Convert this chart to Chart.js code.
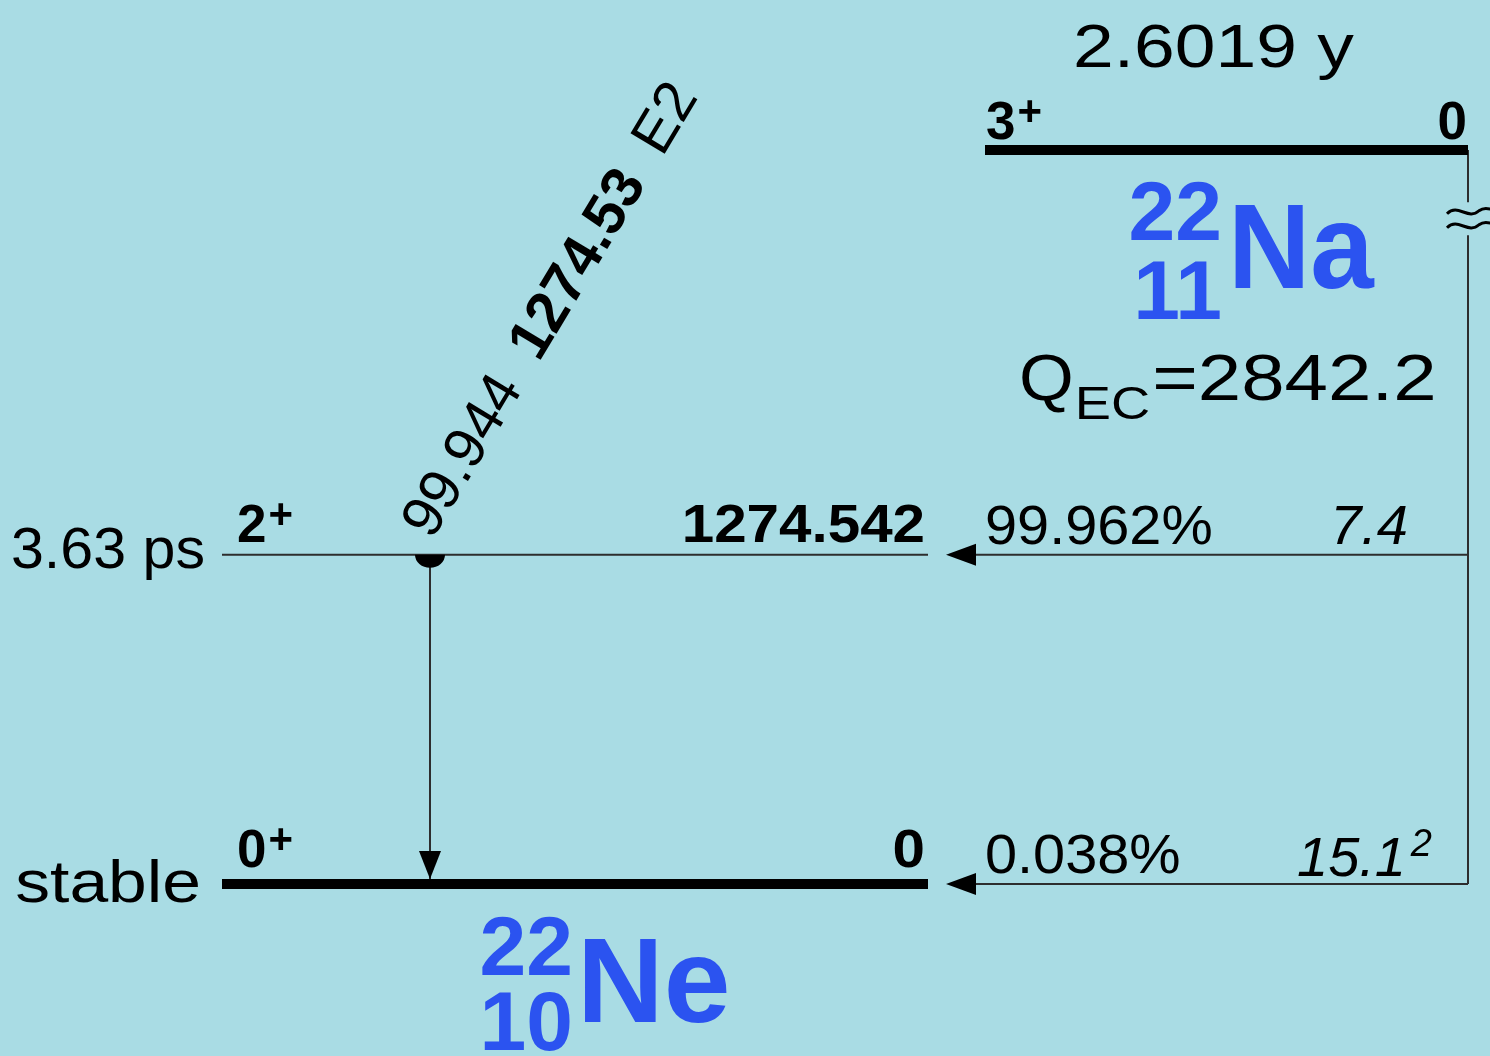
<!DOCTYPE html>
<html>
<head>
<meta charset="utf-8">
<title>22Na decay scheme</title>
<script src="https://cdn.jsdelivr.net/npm/chart.js@4.4.1/dist/chart.umd.min.js"></script>
<style>
  html, body { margin: 0; padding: 0; background: #a9dce4; }
  #scheme { display: block; }
</style>
</head>
<body>
<canvas id="scheme" width="1490" height="1056"></canvas>
<script>
// ---- Decay data: 22Na (3+, 2.6019 y) -> 22Ne by electron capture / beta+ ----
const parentNuclide   = { mass: '22', charge: '11', symbol: 'Na' };
const daughterNuclide = { mass: '22', charge: '10', symbol: 'Ne' };
const parentEnergy    = 2842.2;          // Q_EC, keV (parent ground state drawn at Q)
const parentSpin      = ['3', '+'];
const parentHalfLife  = '2.6019 y';
const parentLevelText = '0';
const qValueText      = '2842.2';

// daughter levels
const levelEnergies   = [0, 1274.542];
const levelLabels     = ['0', '1274.542'];
const levelSpins      = [['0', '+'], ['2', '+']];
const levelHalfLives  = ['stable', '3.63 ps'];

// decay branches fed from the parent, one per daughter level
const branchIntensity = ['0.038%', '99.962%'];
const branchLogFt     = ['15.1', '7.4'];
const branchLogFtSup  = ['2', ''];

// gamma transition
const gammaFrom       = 1274.542;
const gammaTo         = 0;
const gammaIntensity  = '99.944';
const gammaEnergy     = '1274.53';
const gammaMultipol   = 'E2';

// ---- Layout (horizontal units, vertical break on the feeding line) ----
const X_MAX = 1490;
const daughterSpan = [222, 928];
const parentSpan   = [985, 1468];
const feedX        = 1468;
const arrowTipX    = 946;
const arrowLen     = 30;
const gammaX       = 430;
const breakTop     = 2640;   // energy where the feeding line is interrupted
const breakBottom  = 2512;

const FONT = '"Liberation Sans", Arial, Helvetica, sans-serif';
const BLUE = '#2b53f0';
const THICK = 10, THIN = 2;

function seg(x1, y1, x2, y2, w, color) {
  return {
    data: [{ x: x1, y: y1 }, { x: x2, y: y2 }],
    showLine: true, borderColor: color, borderWidth: w,
    pointRadius: 0, borderCapStyle: 'butt', fill: false
  };
}

const datasets = [];
// daughter levels
levelEnergies.forEach(e => {
  datasets.push(seg(daughterSpan[0], e, daughterSpan[1], e, e === 0 ? THICK : THIN, e === 0 ? '#000' : '#2d2d2d'));
});
// parent level
datasets.push(seg(parentSpan[0], parentEnergy, parentSpan[1], parentEnergy, THICK, '#000'));
// feeding line with break
datasets.push(seg(feedX, parentEnergy, feedX, breakTop, THIN, '#2d2d2d'));
datasets.push(seg(feedX, breakBottom, feedX, Math.min(...levelEnergies), THIN, '#2d2d2d'));
// branch lines into each daughter level
levelEnergies.forEach(e => {
  datasets.push(seg(feedX, e, arrowTipX + arrowLen - 2, e, THIN, '#2d2d2d'));
});
// gamma line
datasets.push(seg(gammaX, gammaFrom, gammaX, gammaTo, THIN, '#2d2d2d'));

const background = {
  id: 'background',
  beforeDraw(chart) {
    const c = chart.ctx;
    c.save();
    c.fillStyle = '#a9dce4';
    c.fillRect(0, 0, chart.width, chart.height);
    c.restore();
  }
};

function txt(c, s, x, y, o) {
  o = o || {};
  const size = o.size || 56;
  c.save();
  c.font = (o.italic ? 'italic ' : '') + (o.bold ? 'bold ' : '') + size + 'px ' + FONT;
  c.fillStyle = o.color || '#000';
  c.textBaseline = 'alphabetic';
  const sx = o.sx || 1;
  const w = c.measureText(s).width * sx;
  let left = x;
  if (o.align === 'right') left = x - w;
  else if (o.align === 'center') left = x - w / 2;
  c.translate(left, y);
  c.scale(sx, 1);
  c.fillText(s, 0, 0);
  c.restore();
  return left + w;
}

const annotations = {
  id: 'annotations',
  afterDatasetsDraw(chart) {
    const c = chart.ctx;
    const xs = chart.scales.x, ys = chart.scales.y;
    const px = v => xs.getPixelForValue(v);
    const py = v => ys.getPixelForValue(v);

    // arrow heads on the branch lines
    c.fillStyle = '#000';
    levelEnergies.forEach(e => {
      const y = py(e);
      c.beginPath();
      c.moveTo(px(arrowTipX), y);
      c.lineTo(px(arrowTipX + arrowLen), y - 11);
      c.lineTo(px(arrowTipX + arrowLen), y + 11);
      c.closePath();
      c.fill();
    });

    // gamma: half disc at the start, arrow head at the end
    const gx = px(gammaX), gy0 = py(gammaFrom), gy1 = py(gammaTo) - THICK / 2;
    c.beginPath();
    c.ellipse(gx, gy0, 15, 13, 0, 0, Math.PI);
    c.closePath();
    c.fill();
    c.beginPath();
    c.moveTo(gx, gy1);
    c.lineTo(gx - 11, gy1 - 28);
    c.lineTo(gx + 11, gy1 - 28);
    c.closePath();
    c.fill();

    // break mark on the feeding line
    const fx = px(feedX), bm = (py(breakTop) + py(breakBottom)) / 2;
    c.strokeStyle = '#000';
    c.lineWidth = 3;
    [-7, 7].forEach(dy => {
      const y = bm + dy;
      c.beginPath();
      c.moveTo(fx - 21, y + 2);
      c.bezierCurveTo(fx - 10, y - 9, fx, y + 9, fx + 11, y - 1);
      c.bezierCurveTo(fx + 15, y - 4, fx + 19, y - 4, fx + 24, y - 2);
      c.stroke();
    });

    // parent level labels
    const yP = py(parentEnergy);
    txt(c, parentHalfLife, 1073, yP - 83, { size: 61, sx: 1.2 });
    let e = txt(c, parentSpin[0], 986, yP - 11, { size: 53, bold: true });
    txt(c, parentSpin[1], e + 2, yP - 25, { size: 42, bold: true });
    txt(c, parentLevelText, 1467, yP - 11, { size: 53, bold: true, align: 'right' });

    // parent nuclide
    txt(c, parentNuclide.mass, 1222, yP + 90, { size: 84, bold: true, color: BLUE, align: 'right' });
    txt(c, parentNuclide.charge, 1222, yP + 169, { size: 84, bold: true, color: BLUE, align: 'right' });
    txt(c, parentNuclide.symbol, 1228, yP + 138, { size: 120, bold: true, color: BLUE, sx: 0.95 });

    // Q value
    e = txt(c, 'Q', 1019, yP + 250, { size: 64, sx: 1.1 });
    e = txt(c, 'EC', e + 1, yP + 269, { size: 46, sx: 1.18 });
    txt(c, '=' + qValueText, e + 2, yP + 250, { size: 64, sx: 1.22 });

    // daughter levels
    levelEnergies.forEach((en, i) => {
      const y = py(en);
      const w = en === 0 ? THICK : THIN;
      const top = y - w / 2;
      let end = txt(c, levelSpins[i][0], 237, top - 12, { size: 53, bold: true });
      txt(c, levelSpins[i][1], end + 2, top - 26, { size: 42, bold: true });
      txt(c, levelLabels[i], 925, top - 12, { size: 54, bold: true, align: 'right', sx: 1.08 });
      if (en === 0) {
        txt(c, levelHalfLives[i], 201, y + 18, { size: 60, align: 'right', sx: 1.16 });
      } else {
        txt(c, levelHalfLives[i], 205, y + 13, { size: 58, align: 'right', sx: 1.02 });
      }

      // branch labels
      txt(c, branchIntensity[i], 985, y - 11, { size: 56, sx: 1.03 });
      if (branchLogFtSup[i]) {
        const supW = 26;
        txt(c, branchLogFt[i], 1432 - supW, y - 8, { size: 56, italic: true, align: 'right' });
        txt(c, branchLogFtSup[i], 1432, y - 28, { size: 38, italic: true, align: 'right' });
      } else {
        txt(c, branchLogFt[i], 1408, y - 11, { size: 56, italic: true, align: 'right' });
      }
    });

    // daughter nuclide
    const yG = py(0);
    txt(c, daughterNuclide.mass, 573, yG + 91, { size: 84, bold: true, color: BLUE, align: 'right' });
    txt(c, daughterNuclide.charge, 573, yG + 166, { size: 84, bold: true, color: BLUE, align: 'right' });
    txt(c, daughterNuclide.symbol, 577, yG + 138, { size: 120, bold: true, color: BLUE });

    // gamma label along the transition
    c.save();
    c.translate(gx + 2, gy0 - 14);
    c.rotate(-59 * Math.PI / 180);
    let u = txt(c, gammaIntensity, 0, 0, { size: 58 });
    u = txt(c, gammaEnergy, u + 30, 0, { size: 58, bold: true });
    txt(c, gammaMultipol, u + 30, 0, { size: 58 });
    c.restore();
  }
};

new Chart(document.getElementById('scheme'), {
  type: 'scatter',
  data: { datasets },
  options: {
    responsive: false,
    animation: false,
    devicePixelRatio: 1,
    layout: { padding: 0 },
    events: [],
    plugins: { legend: { display: false }, tooltip: { enabled: false } },
    scales: {
      x: { type: 'linear', min: 0, max: X_MAX, display: false },
      y: { type: 'linear', min: -666, max: 3423, display: false }
    }
  },
  plugins: [background, annotations]
});
</script>
</body>
</html>
